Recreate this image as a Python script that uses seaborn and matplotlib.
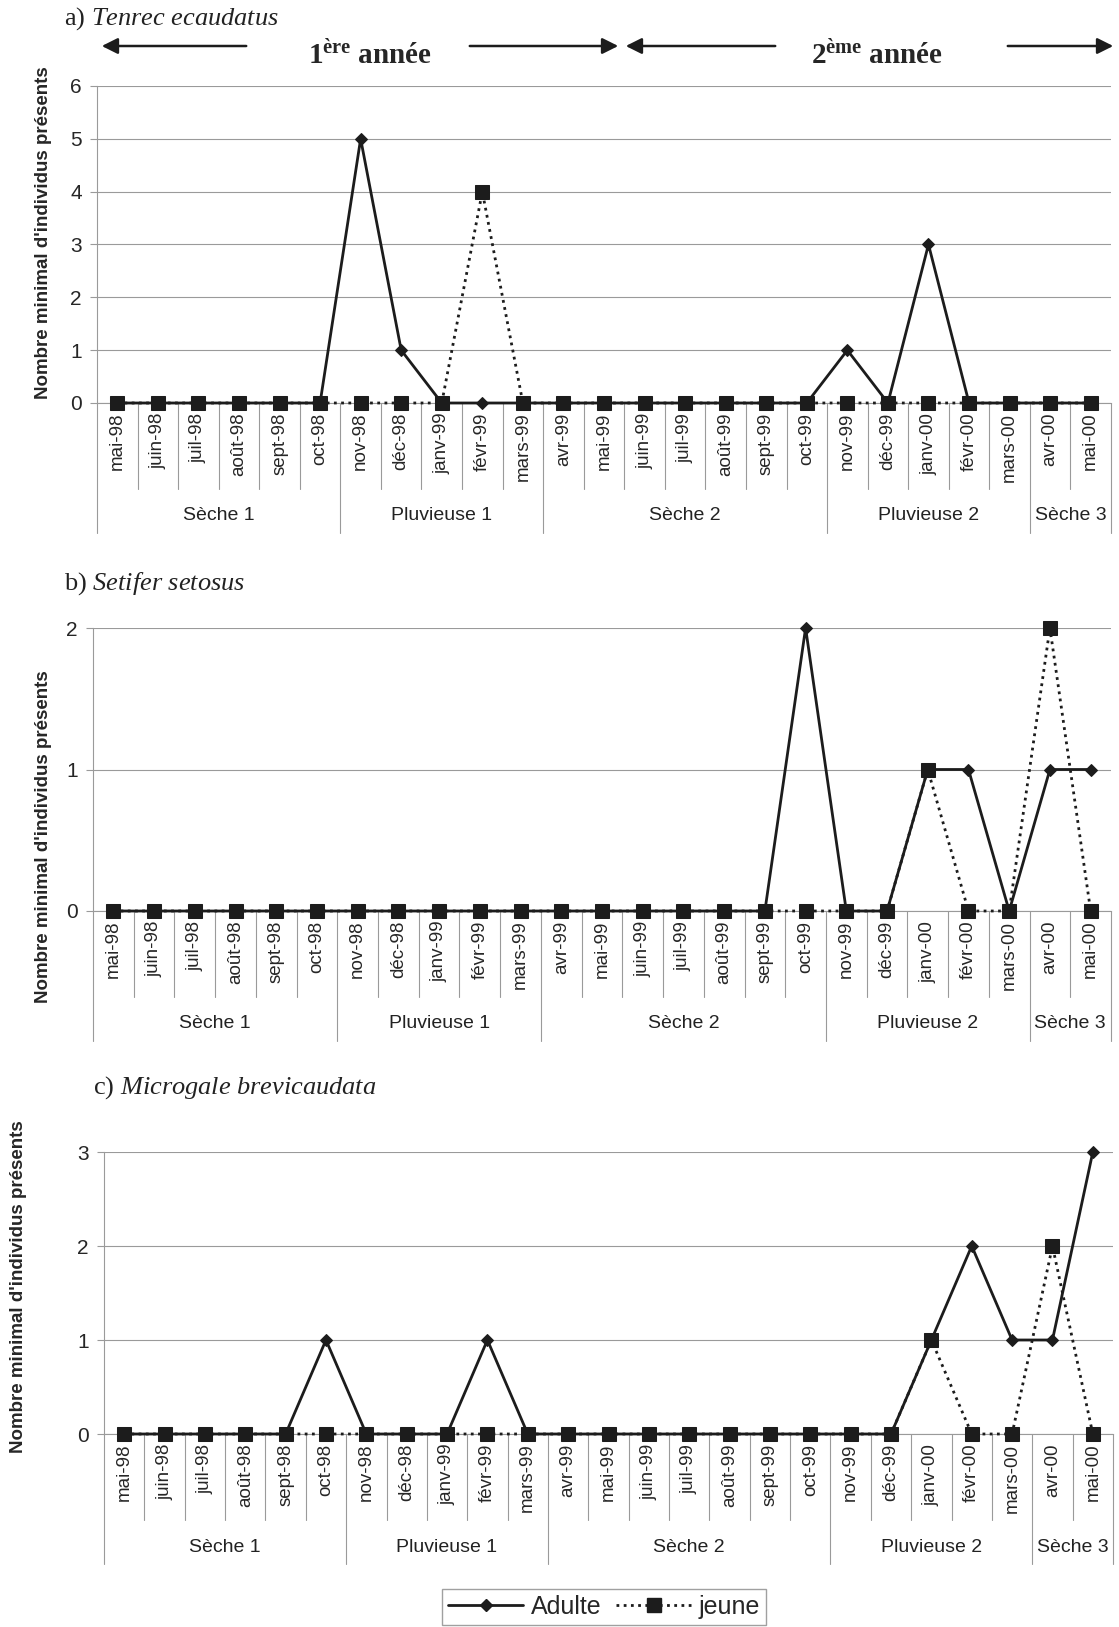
import numpy as np
import pandas as pd
import matplotlib
matplotlib.use("Agg")
import matplotlib.pyplot as plt
import matplotlib.transforms as mtransforms
from matplotlib.patches import FancyArrowPatch
from matplotlib.lines import Line2D
import seaborn as sns

months = ["mai-98", "juin-98", "juil-98", "août-98", "sept-98", "oct-98",
          "nov-98", "déc-98", "janv-99", "févr-99", "mars-99", "avr-99",
          "mai-99", "juin-99", "juil-99", "août-99", "sept-99", "oct-99",
          "nov-99", "déc-99", "janv-00", "févr-00", "mars-00", "avr-00", "mai-00"]
season_names = ["Sèche 1", "Pluvieuse 1", "Sèche 2", "Pluvieuse 2", "Sèche 3"]
season_lengths = [6, 5, 7, 5, 2]

tenrec_adulte = [0, 0, 0, 0, 0, 0, 5, 1, 0, 0, 0, 0, 0, 0, 0, 0, 0, 0, 1, 0, 3, 0, 0, 0, 0]
tenrec_jeune = [0, 0, 0, 0, 0, 0, 0, 0, 0, 4, 0, 0, 0, 0, 0, 0, 0, 0, 0, 0, 0, 0, 0, 0, 0]
setifer_adulte = [0, 0, 0, 0, 0, 0, 0, 0, 0, 0, 0, 0, 0, 0, 0, 0, 0, 2, 0, 0, 1, 1, 0, 1, 1]
setifer_jeune = [0, 0, 0, 0, 0, 0, 0, 0, 0, 0, 0, 0, 0, 0, 0, 0, 0, 0, 0, 0, 1, 0, 0, 2, 0]
micro_adulte = [0, 0, 0, 0, 0, 1, 0, 0, 0, 1, 0, 0, 0, 0, 0, 0, 0, 0, 0, 0, 1, 2, 1, 1, 3]
micro_jeune = [0, 0, 0, 0, 0, 0, 0, 0, 0, 0, 0, 0, 0, 0, 0, 0, 0, 0, 0, 0, 1, 0, 0, 2, 0]

ylabel = "Nombre minimal d'individus présents"
W, H = 1119, 1627
INK = "#1c1c1c"
GRID = "#9a9a9a"

sns.set_style("white")
plt.rcParams["font.family"] = ["Liberation Sans", "DejaVu Sans"]
plt.rcParams["mathtext.fontset"] = "custom"
plt.rcParams["mathtext.rm"] = "Liberation Serif"
plt.rcParams["mathtext.it"] = "Liberation Serif:italic"
plt.rcParams["mathtext.bf"] = "Liberation Serif:bold"

fig = plt.figure(figsize=(W / 100, H / 100), dpi=100)
fig.patch.set_facecolor("white")

# panel boxes in pixels: left, top, right, bottom ; ylabel x / y centre ; title x / y
panels = [
    dict(box=(97, 86, 1111, 403), ymax=6, adulte=tenrec_adulte, jeune=tenrec_jeune,
         lab=(44, 233), title=(64, 19), name=r"a) $\it{Tenrec\ ecaudatus}$"),
    dict(box=(93, 628, 1111, 911), ymax=2, adulte=setifer_adulte, jeune=setifer_jeune,
         lab=(44, 837), title=(64, 584), name=r"b) $\it{Setifer\ setosus}$"),
    dict(box=(104, 1152, 1113, 1434), ymax=3, adulte=micro_adulte, jeune=micro_jeune,
         lab=(19, 1287), title=(93, 1088), name=r"c) $\it{Microgale\ brevicaudata}$"),
]

for p in panels:
    l, t, r, b = p["box"]
    ax = fig.add_axes([l / W, 1 - b / H, (r - l) / W, (b - t) / H])
    hpx = b - t
    x = np.arange(len(months))
    df_a = pd.DataFrame({"x": x, "n": p["adulte"]})
    df_j = pd.DataFrame({"x": x, "n": p["jeune"]})
    sns.lineplot(data=df_a, x="x", y="n", ax=ax, color=INK, lw=2.0, marker="D",
                 markersize=6.5, mec=INK, mfc=INK, sort=False, clip_on=False, zorder=3)
    sns.lineplot(data=df_j, x="x", y="n", ax=ax, color=INK, lw=2.0, marker="s",
                 markersize=9.5, mec=INK, mfc=INK, sort=False, clip_on=False,
                 dashes=(1, 1.6), zorder=4)
    ax.set_xlim(-0.5, len(months) - 0.5)
    ax.set_ylim(0, p["ymax"])
    ax.set_yticks(range(p["ymax"] + 1))
    ax.yaxis.grid(True, color=GRID, lw=0.8)
    ax.set_axisbelow(True)
    for s in ["top", "right"]:
        ax.spines[s].set_visible(False)
    ax.spines["left"].set_color(GRID)
    ax.spines["bottom"].set_color(GRID)
    ax.spines["left"].set_linewidth(0.8)
    ax.spines["bottom"].set_linewidth(0.8)
    ax.tick_params(axis="y", length=5, color=GRID, labelsize=15, pad=6, left=True)
    ax.set_xticks(x)
    ax.set_xticklabels(months, rotation=90, fontsize=13.5)
    ax.tick_params(axis="x", length=0, pad=7)
    ax.set_xlabel("")
    ax.set_ylabel("")

    trans = mtransforms.blended_transform_factory(ax.transData, ax.transAxes)
    month_depth = -86 / hpx
    season_depth = -130 / hpx
    bounds = np.cumsum([0] + season_lengths)
    for k in range(len(months) + 1):
        depth = season_depth if k in bounds else month_depth
        ax.plot([k - 0.5, k - 0.5], [0, depth], transform=trans, clip_on=False,
                color=GRID, lw=0.8)
    for name, start, n in zip(season_names, bounds[:-1], season_lengths):
        ax.text(start + (n - 1) / 2, -113 / hpx, name, transform=trans,
                ha="center", va="center", fontsize=14, color="#222222")

    fig.text(p["lab"][0] / W, 1 - p["lab"][1] / H, ylabel, rotation=90,
             ha="center", va="center", fontsize=13.5, fontweight="bold")
    fig.text(p["title"][0] / W, 1 - p["title"][1] / H, p["name"], ha="left",
             va="center", fontsize=19, family="Liberation Serif", color="#222222")

# year arrows
year_y = 1 - 46 / H
for tail, head in [(249, 99), (467, 621), (778, 623), (1005, 1116)]:
    arr = FancyArrowPatch((tail / W, year_y), (head / W, year_y),
                          transform=fig.transFigure, arrowstyle="-|>",
                          mutation_scale=24, lw=1.8, color=INK)
    fig.add_artist(arr)
fig.text(370 / W, 1 - 56 / H, r"1$^{\mathbf{ère}}$ année", ha="center", va="center",
         fontsize=21, fontweight="bold", family="Liberation Serif")
fig.text(877 / W, 1 - 56 / H, r"2$^{\mathbf{ème}}$ année", ha="center", va="center",
         fontsize=21, fontweight="bold", family="Liberation Serif")

handles = [
    Line2D([], [], color=INK, lw=2.0, marker="D", markersize=6.5, mfc=INK, mec=INK),
    Line2D([], [], color=INK, lw=2.0, marker="s", markersize=9.5, mfc=INK, mec=INK,
           dashes=(1, 1.6)),
]
leg = fig.legend(handles, ["Adulte", "jeune"], loc="center",
                 bbox_to_anchor=(604 / W, 1 - 1607 / H), ncol=2, fontsize=18,
                 frameon=True, fancybox=False, edgecolor="#888888",
                 handlelength=3.0, handletextpad=0.3, columnspacing=0.6,
                 borderpad=0.25)
leg.get_frame().set_linewidth(1.0)

fig.savefig("out.png", dpi=100, facecolor="white")
